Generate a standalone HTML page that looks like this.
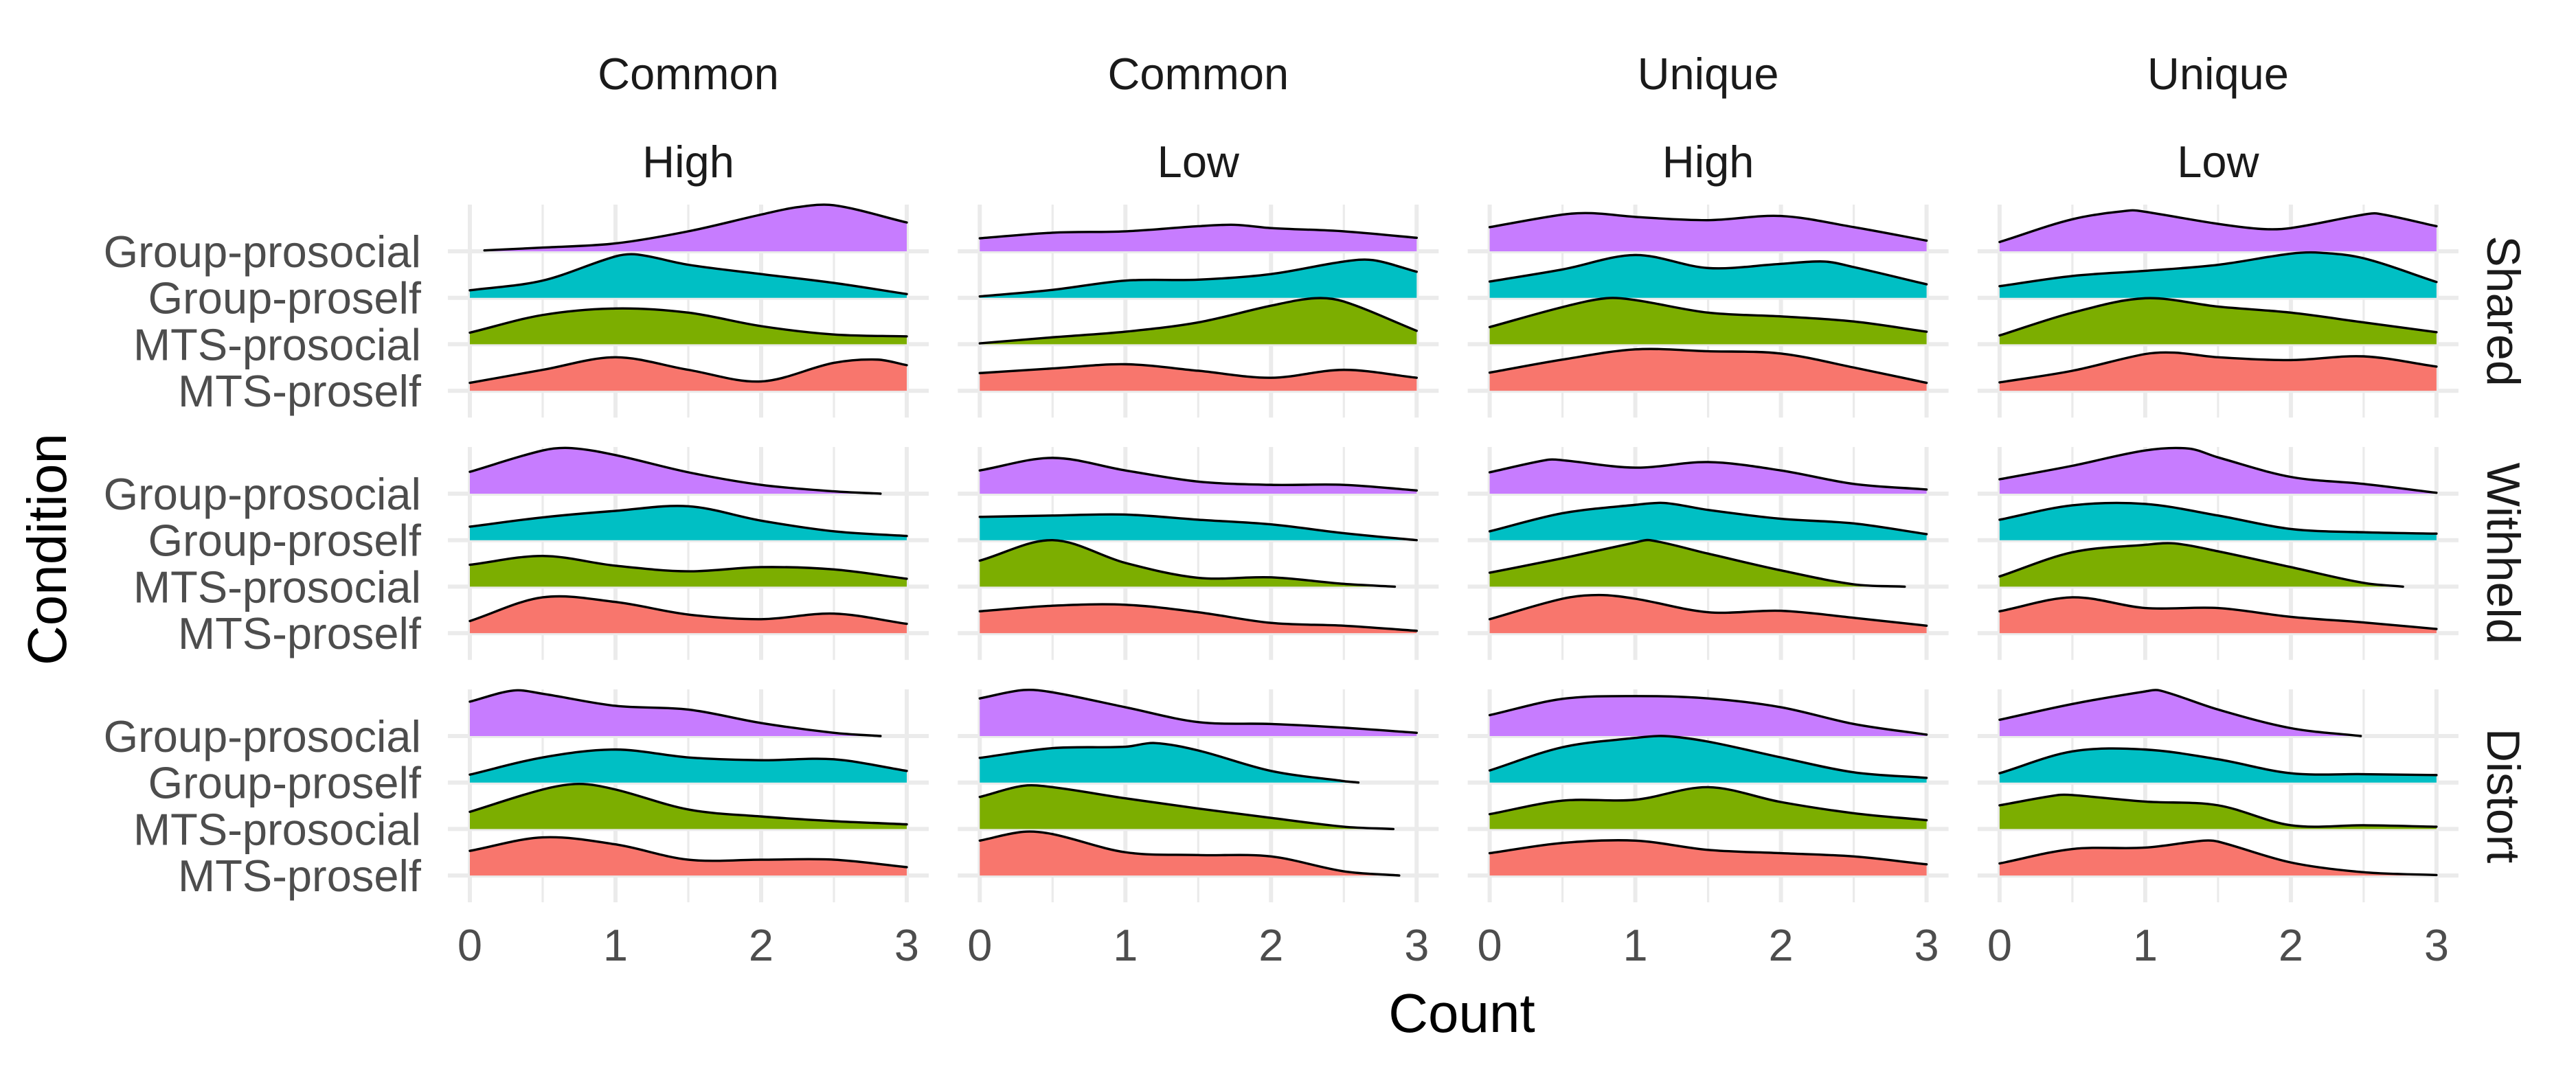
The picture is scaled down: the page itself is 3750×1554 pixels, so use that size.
<!DOCTYPE html>
<html><head><meta charset="utf-8"><style>html,body{margin:0;padding:0;background:#fff}svg{display:block}</style></head>
<body>
<svg id="chart" xmlns="http://www.w3.org/2000/svg" width="3750" height="1554" viewBox="0 0 3750 1554" font-family="Liberation Sans, sans-serif">
<rect width="3750" height="1554" fill="#fff"/>
<g id="grid"></g>
<g id="ridges"></g>
<g id="labels"></g>
<text x="2128" y="1503" font-size="80" text-anchor="middle" fill="#000">Count</text>
<text transform="translate(96,800) rotate(-90)" font-size="80" text-anchor="middle" fill="#000">Condition</text>
</svg>
<script>
const colTop = ["Common","Common","Unique","Unique"];
const colBottom = ["High","Low","High","Low"];
const rowLabels = ["Shared","Withheld","Distort"];
const groups = ["Group-prosocial","Group-proself","MTS-prosocial","MTS-proself"];
const groupColors = ["#C77CFF","#00BFC4","#7CAE00","#F8766D"];
const xTicks = [0,1,2,3];
const xMinor = [0.5,1.5,2.5];
// curves[row][col][group] = {x:[...], h:[...]} density heights in ridge units
const curves = [
 [ // Shared
  [ {x:[0.1,0.5,1,1.5,2,2.25,2.5,3],h:[0.02,0.08,0.17,0.43,0.79,0.95,0.99,0.62]},
    {x:[0,0.5,1,1.15,1.5,2,2.5,3],h:[0.16,0.37,0.89,0.93,0.71,0.51,0.32,0.08]},
    {x:[0,0.5,1,1.5,2,2.5,3],h:[0.25,0.63,0.77,0.68,0.39,0.21,0.17]},
    {x:[0,0.5,1,1.5,2,2.5,2.8,3],h:[0.17,0.45,0.72,0.45,0.2,0.6,0.67,0.55]} ],
  [ {x:[0,0.5,1,1.5,1.75,2,2.5,3],h:[0.28,0.40,0.43,0.54,0.57,0.5,0.43,0.29]},
    {x:[0,0.5,1,1.5,2,2.5,2.7,3],h:[0.03,0.17,0.37,0.39,0.51,0.78,0.81,0.56]},
    {x:[0,0.5,1,1.5,2,2.3,2.5,3],h:[0.02,0.15,0.27,0.47,0.83,0.99,0.92,0.29]},
    {x:[0,0.5,1,1.5,2,2.5,3],h:[0.38,0.48,0.57,0.43,0.28,0.45,0.28]} ],
  [ {x:[0,0.5,0.7,1,1.5,2,2.5,3],h:[0.52,0.79,0.82,0.74,0.67,0.76,0.52,0.23]},
    {x:[0,0.5,1,1.5,2,2.3,2.5,3],h:[0.35,0.61,0.92,0.64,0.73,0.78,0.66,0.29]},
    {x:[0,0.5,0.8,1,1.5,2,2.5,3],h:[0.37,0.8,0.99,0.95,0.68,0.6,0.49,0.27]},
    {x:[0,0.5,1,1.5,2,2.5,3],h:[0.39,0.67,0.89,0.85,0.8,0.5,0.17]} ],
  [ {x:[0,0.5,0.9,1,1.5,1.8,2,2.5,2.6,3],h:[0.2,0.69,0.88,0.85,0.59,0.48,0.5,0.79,0.81,0.54]},
    {x:[0,0.5,1,1.5,2,2.2,2.5,3],h:[0.25,0.47,0.58,0.71,0.95,0.97,0.85,0.34]},
    {x:[0,0.5,1,1.5,2,2.5,3],h:[0.19,0.68,0.99,0.81,0.68,0.47,0.26]},
    {x:[0,0.5,1,1.2,1.5,2,2.5,3],h:[0.18,0.43,0.79,0.82,0.72,0.66,0.74,0.52]} ]
 ],
 [ // Withheld
  [ {x:[0,0.5,0.7,1,1.5,2,2.5,2.82],h:[0.47,0.93,0.98,0.83,0.46,0.19,0.05,0]},
    {x:[0,0.5,1,1.5,2,2.5,3],h:[0.29,0.49,0.63,0.73,0.42,0.19,0.09]},
    {x:[0,0.5,1,1.5,2,2.5,3],h:[0.47,0.66,0.45,0.33,0.42,0.37,0.17]},
    {x:[0,0.5,1,1.5,2,2.5,3],h:[0.26,0.77,0.67,0.40,0.30,0.42,0.2]} ],
  [ {x:[0,0.5,1,1.5,2,2.5,3],h:[0.5,0.77,0.5,0.26,0.19,0.19,0.07]},
    {x:[0,0.5,1,1.5,2,2.5,3],h:[0.5,0.53,0.55,0.44,0.34,0.15,0]},
    {x:[0,0.5,1,1.5,2,2.5,2.85],h:[0.56,1.0,0.51,0.19,0.2,0.06,0]},
    {x:[0,0.5,1,1.5,2,2.5,3],h:[0.47,0.59,0.61,0.45,0.22,0.16,0.05]} ],
  [ {x:[0,0.4,0.5,1,1.5,2,2.5,3],h:[0.46,0.73,0.72,0.56,0.68,0.5,0.21,0.09]},
    {x:[0,0.5,1,1.2,1.5,2,2.5,3],h:[0.19,0.58,0.76,0.8,0.65,0.46,0.36,0.13]},
    {x:[0,0.5,1,1.1,1.5,2,2.5,2.85],h:[0.3,0.61,0.95,1.0,0.71,0.35,0.05,0]},
    {x:[0,0.5,0.75,1,1.5,2,2.5,3],h:[0.3,0.74,0.82,0.74,0.45,0.48,0.33,0.16]} ],
  [ {x:[0,0.5,1,1.3,1.5,2,2.5,3],h:[0.31,0.6,0.93,0.97,0.78,0.36,0.21,0.02]},
    {x:[0,0.5,1,1.5,2,2.5,3],h:[0.44,0.75,0.78,0.53,0.24,0.17,0.14]},
    {x:[0,0.5,1,1.2,1.5,2,2.5,2.77],h:[0.22,0.74,0.9,0.93,0.76,0.42,0.08,0]},
    {x:[0,0.5,1,1.5,2,2.5,3],h:[0.47,0.77,0.54,0.54,0.35,0.23,0.09]} ]
 ],
 [ // Distort
  [ {x:[0,0.3,0.5,1,1.5,2,2.5,2.82],h:[0.74,0.98,0.91,0.65,0.57,0.28,0.07,0]},
    {x:[0,0.5,1,1.5,2,2.5,3],h:[0.17,0.54,0.71,0.54,0.48,0.5,0.25]},
    {x:[0,0.5,0.75,1,1.5,2,2.5,3],h:[0.37,0.85,0.97,0.85,0.42,0.27,0.17,0.1]},
    {x:[0,0.5,1,1.5,2,2.5,3],h:[0.53,0.82,0.67,0.34,0.34,0.34,0.18]} ],
  [ {x:[0,0.3,0.5,1,1.5,2,2.5,3],h:[0.81,0.99,0.94,0.62,0.30,0.26,0.18,0.07]},
    {x:[0,0.5,1,1.2,1.5,2,2.5,2.6],h:[0.53,0.74,0.77,0.85,0.69,0.25,0.03,0]},
    {x:[0,0.3,0.5,1,1.5,2,2.5,2.84],h:[0.69,0.93,0.9,0.66,0.44,0.24,0.05,0]},
    {x:[0,0.3,0.5,1,1.5,2,2.5,2.88],h:[0.75,0.94,0.89,0.50,0.44,0.41,0.09,0]} ],
  [ {x:[0,0.5,1,1.5,2,2.5,3],h:[0.45,0.8,0.86,0.81,0.62,0.26,0.03]},
    {x:[0,0.5,1,1.2,1.5,2,2.5,3],h:[0.26,0.76,0.96,1.0,0.88,0.54,0.22,0.1]},
    {x:[0,0.5,1,1.5,2,2.5,3],h:[0.32,0.61,0.63,0.9,0.58,0.34,0.19]},
    {x:[0,0.5,1,1.5,2,2.5,3],h:[0.48,0.70,0.75,0.55,0.48,0.41,0.24]} ],
  [ {x:[0,0.5,1,1.1,1.5,2,2.48],h:[0.35,0.69,0.96,0.98,0.57,0.17,0]},
    {x:[0,0.5,1,1.5,2,2.5,3],h:[0.2,0.67,0.71,0.5,0.2,0.18,0.16]},
    {x:[0,0.4,0.5,1,1.5,2,2.5,3],h:[0.51,0.73,0.73,0.59,0.51,0.08,0.08,0.05]},
    {x:[0,0.5,1,1.4,1.5,2,2.5,3],h:[0.26,0.57,0.6,0.75,0.73,0.28,0.07,0.01]} ]
 ]
];

const NS = "http://www.w3.org/2000/svg";
const X0 = 684, COLSTEP = 742.3, UNIT = 212;
const ROW0 = 366, ROWSTEP = 353, SPACING = 67.7, HSCALE = 67.7;
function xScale(col, v){ return X0 + col*COLSTEP + v*UNIT; }
function baseY(row, g){ return ROW0 + row*ROWSTEP + g*SPACING; }
function hScale(h){ return h*HSCALE; }
function mk(tag, attrs, parent){
  const el = document.createElementNS(NS, tag);
  for (const k in attrs) el.setAttribute(k, attrs[k]);
  parent.appendChild(el); return el;
}
const grid = document.getElementById('grid');
const ridges = document.getElementById('ridges');
const labels = document.getElementById('labels');

for (let r=0;r<3;r++){
  for (let c=0;c<4;c++){
    const top = baseY(r,0)-68, bot = baseY(r,3)+39;
    const left = xScale(c,0)-32, right = xScale(c,3)+32;
    xMinor.forEach(v=>{
      const l = mk('line',{x1:xScale(c,v),x2:xScale(c,v),y1:top,y2:bot,stroke:'#ebebeb','stroke-width':3.2},grid);
      
      
    });
    xTicks.forEach(v=>{
      const l = mk('line',{x1:xScale(c,v),x2:xScale(c,v),y1:top,y2:bot,stroke:'#ebebeb','stroke-width':6},grid);
      
      
    });
    for (let g=0; g<4; g++){
      const l = mk('line',{x1:left,x2:right,y1:baseY(r,g),y2:baseY(r,g),stroke:'#ebebeb','stroke-width':6},grid);
      
      
    }
    for (let g=0; g<4; g++){
      const cv = curves[r][c][g];
      const px = cv.x.map(v=>xScale(c,v));
      const py = cv.h.map(v=>baseY(r,g)-hScale(v));
      const n = px.length, t=[];
      for (let i=0;i<n;i++){
        const a = Math.max(0,i-1), b = Math.min(n-1,i+1);
        t.push((py[b]-py[a])/(px[b]-px[a]));
      }
      let d = `M${px[0]},${py[0]}`;
      for (let i=0;i<n-1;i++){
        const dx = (px[i+1]-px[i])/3;
        d += ` C${px[i]+dx},${py[i]+t[i]*dx} ${px[i+1]-dx},${py[i+1]-t[i+1]*dx} ${px[i+1]},${py[i+1]}`;
      }
      const fill = mk('path',{d: d+` L${px[n-1]},${baseY(r,g)} L${px[0]},${baseY(r,g)} Z`, fill:groupColors[g], stroke:'none'},ridges);
      
      
      const line = mk('path',{d:d, fill:'none', stroke:'#000','stroke-width':3.4,'stroke-linecap':'round'},ridges);
      
      
    }
    if (c===0){
      groups.forEach((gname,g)=>{
        const t = mk('text',{x:613,y:baseY(r,g)+23,'font-size':65,'text-anchor':'end',fill:'#4d4d4d'},labels);
        t.textContent = gname;
        
        
      });
    }
    if (r===2){
      xTicks.forEach(v=>{
        const t = mk('text',{x:xScale(c,v),y:1399,'font-size':65,'text-anchor':'middle',fill:'#4d4d4d'},labels);
        t.textContent = v;
        
        
      });
    }
  }
}
for (let c=0;c<4;c++){
  const cx = xScale(c,1.5);
  const a = mk('text',{x:cx,y:130,'font-size':65,'text-anchor':'middle',fill:'#1a1a1a'},labels);
  a.textContent = colTop[c];
  
  
  const b = mk('text',{x:cx,y:258,'font-size':65,'text-anchor':'middle',fill:'#1a1a1a'},labels);
  b.textContent = colBottom[c];
  
  
}
rowLabels.forEach((lab,r)=>{
  const cy = (baseY(r,0)-68 + baseY(r,3)+39)/2;
  const t = mk('text',{transform:`translate(3621,${cy}) rotate(90)`,'font-size':68,'text-anchor':'middle',fill:'#1a1a1a'},labels);
  t.textContent = lab;
  
  
});
</script>
</body></html>
